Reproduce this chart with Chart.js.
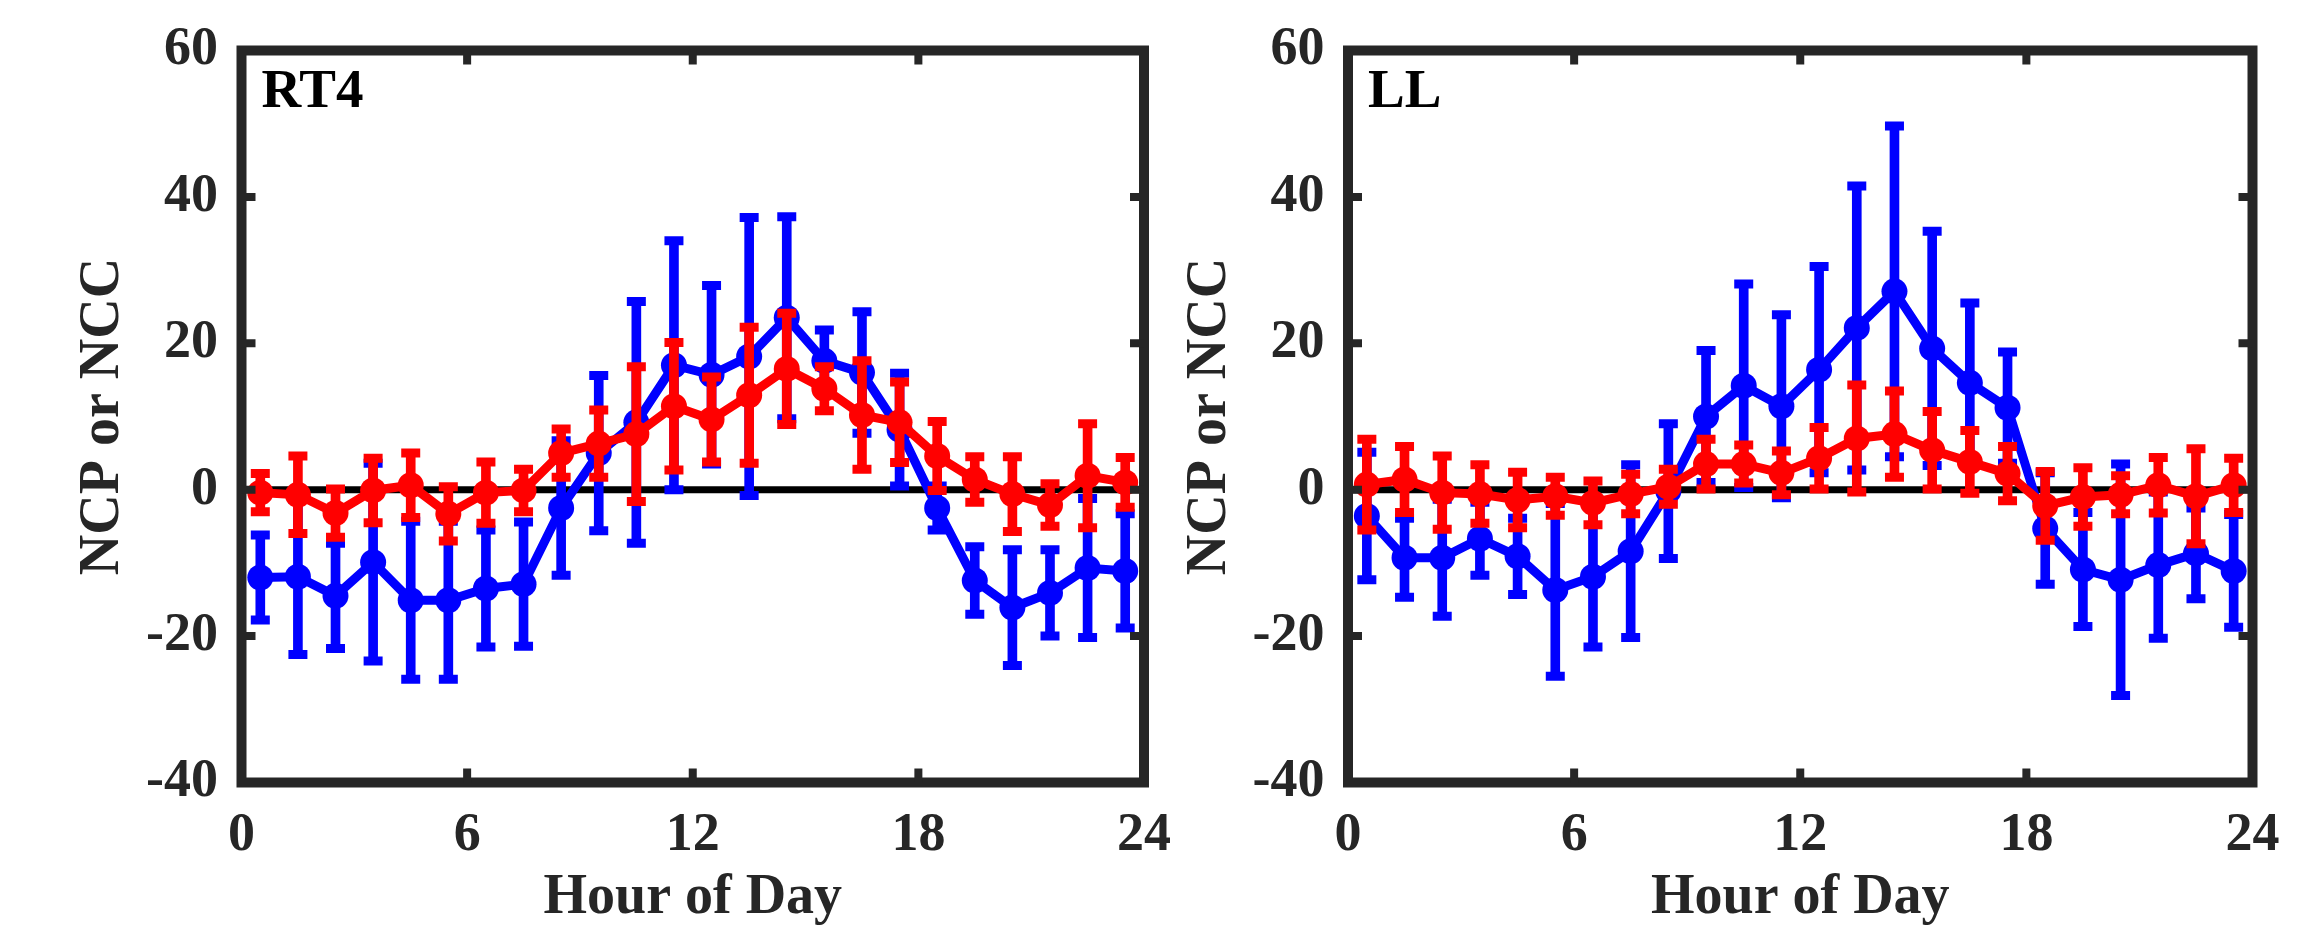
<!DOCTYPE html>
<html><head><meta charset="utf-8">
<script src="https://cdn.jsdelivr.net/npm/chart.js@4.4.1/dist/chart.umd.min.js"></script>
<style>
html,body{margin:0;padding:0;background:#fff;overflow:hidden}
#wrap{position:relative;width:2321px;height:933px;background:#fff}
canvas{position:absolute;left:0;top:0}
#pre{position:absolute;left:0;top:0;font:bold 54px "Liberation Serif";color:#fff;opacity:0.01}
</style></head><body>
<div id="wrap"><span id="pre">NCP or NCC Hour of Day 0123456789 RT4 LL</span><canvas id="c1" width="2321" height="933" style="width:2321px;height:933px"></canvas><canvas id="c2" width="2321" height="933" style="width:2321px;height:933px"></canvas></div>
<script>
// ---- data ----
const hours = [0.5,1.5,2.5,3.5,4.5,5.5,6.5,7.5,8.5,9.5,10.5,11.5,12.5,13.5,14.5,15.5,16.5,17.5,18.5,19.5,20.5,21.5,22.5,23.5];
const xTicks = [0, 6, 12, 18, 24];
const yTicks = [-40, -20, 0, 20, 40, 60];
const panelLabels = ['RT4', 'LL'];

// RT4 panel
const rt4Ncp    = [-12.0,-11.9,-14.5,-9.9,-15.1,-15.1,-13.5,-12.9,-2.5,5.0,9.2,17.0,15.7,18.2,23.5,17.6,16.0,8.2,-2.5,-12.4,-16.1,-14.1,-10.7,-11.1];
const rt4NcpErr = [5.8,10.6,7.2,13.5,10.8,10.8,8.0,8.5,9.2,10.6,16.5,17.0,12.2,19.0,13.8,4.2,8.3,7.7,3.0,4.6,7.9,5.9,9.5,7.8];
const rt4Ncc    = [-0.4,-0.7,-3.2,-0.1,0.6,-3.3,-0.4,-0.1,5.0,6.3,7.6,11.4,9.6,12.9,16.5,13.8,10.2,9.2,4.6,1.4,-0.6,-2.1,1.9,1.0];
const rt4NccErr = [2.6,5.3,3.3,4.4,4.4,3.7,4.2,2.9,3.3,4.6,9.2,8.7,5.8,9.3,7.6,3.0,7.4,5.5,4.7,3.1,5.1,2.9,7.1,3.4];

// LL panel
const llNcp    = [-3.6,-9.3,-9.3,-6.7,-9.1,-13.7,-11.9,-8.4,-0.2,10.0,14.2,11.4,16.4,22.1,27.1,19.3,14.6,11.2,-5.3,-10.9,-12.3,-10.3,-8.7,-11.1];
const llNcpErr = [8.7,5.4,8.0,5.0,5.2,11.8,9.6,11.8,9.2,9.0,13.9,12.5,14.1,19.4,22.6,16.0,10.9,7.6,7.6,7.8,15.8,10.0,6.2,7.7];
const llNcc    = [0.7,1.4,-0.4,-0.6,-1.4,-0.9,-1.8,-0.6,0.4,3.5,3.5,2.3,4.3,7.0,7.6,5.4,3.8,2.2,-2.2,-1.0,-0.7,0.6,-0.9,0.6];
const llNccErr = [6.2,4.5,5.0,4.0,3.8,2.6,3.0,2.7,2.4,3.4,2.6,3.0,4.2,7.3,5.9,5.3,4.3,3.7,4.7,4.0,2.6,3.8,6.5,3.7];

// ---- styling ----
const FONT = '"Liberation Serif", "Times New Roman", Times, serif';
const TXT = '#262626';
const BLUE = '#0000ff';
const RED = '#ff0000';
const f54 = {family: FONT, size: 54, weight: 'bold', lineHeight: 1};
const f56 = {family: FONT, size: 56, weight: 'bold', lineHeight: 1};

function stems(v, e) { return hours.map((h, i) => ({x: h, y: [v[i] - e[i], v[i] + e[i]]})); }
function caps(v, e) { const o = []; hours.forEach((h, i) => { o.push({x: h, y: v[i] - e[i]}); o.push({x: h, y: v[i] + e[i]}); }); return o; }
function pts(v) { return hours.map((h, i) => ({x: h, y: v[i]})); }

function seriesSets(v, e, color, baseOrder) {
  return [
    {type: 'bar', data: stems(v, e), backgroundColor: color, borderWidth: 0, barThickness: 9, maxBarThickness: 9, grouped: false, order: baseOrder + 2},
    {type: 'scatter', data: caps(v, e), showLine: false, pointStyle: 'line', pointRadius: 9.5, pointHoverRadius: 9.5,
     pointBorderColor: color, borderColor: color, pointBorderWidth: 9, borderWidth: 9, order: baseOrder + 1},
    {type: 'line', data: pts(v), borderColor: color, borderWidth: 9, tension: 0, fill: false,
     pointRadius: 13, pointHoverRadius: 13, pointBackgroundColor: color, pointBorderColor: color, pointBorderWidth: 0, order: baseOrder}
  ];
}

const framePlugin = {
  id: 'frame',
  afterDatasetsDraw(chart, args, opts) {
    const {ctx, chartArea: a, scales} = chart;
    ctx.save();
    ctx.strokeStyle = TXT;
    ctx.lineWidth = 10;
    ctx.lineJoin = 'miter';
    ctx.strokeRect(a.left, a.top, a.right - a.left, a.bottom - a.top);
    ctx.lineWidth = 8;
    ctx.beginPath();
    const L = 14;
    xTicks.forEach(t => {
      const px = scales.x.getPixelForValue(t);
      if (px <= a.left + 1 || px >= a.right - 1) return;
      ctx.moveTo(px, a.bottom); ctx.lineTo(px, a.bottom - L);
      ctx.moveTo(px, a.top); ctx.lineTo(px, a.top + L);
    });
    yTicks.forEach(t => {
      const py = scales.y.getPixelForValue(t);
      if (py <= a.top + 1 || py >= a.bottom - 1) return;
      ctx.moveTo(a.left, py); ctx.lineTo(a.left + L, py);
      ctx.moveTo(a.right, py); ctx.lineTo(a.right - L, py);
    });
    ctx.stroke();
    ctx.fillStyle = '#000';
    ctx.font = 'bold 55px ' + FONT;
    ctx.textAlign = 'left';
    ctx.textBaseline = 'alphabetic';
    ctx.fillText(opts.label, a.left + 20, a.top + 56);
    ctx.restore();
  }
};

function makeChart(id, label, ncp, ncpErr, ncc, nccErr, padding) {
  const zero = [{x: xTicks[0], y: 0}, {x: xTicks[xTicks.length - 1], y: 0}];
  return new Chart(document.getElementById(id), {
    type: 'scatter',
    data: {
      datasets: [
        {type: 'line', data: zero, borderColor: '#000', borderWidth: 7, pointRadius: 0, pointHoverRadius: 0, order: 20},
        ...seriesSets(ncp, ncpErr, BLUE, 10),
        ...seriesSets(ncc, nccErr, RED, 0)
      ]
    },
    options: {
      responsive: false,
      animation: false,
      events: [],
      devicePixelRatio: 1,
      layout: {padding},
      plugins: {legend: {display: false}, tooltip: {enabled: false}, frame: {label}},
      scales: {
        x: {
          type: 'linear', position: 'bottom', min: xTicks[0], max: xTicks[xTicks.length - 1], offset: false,
          grid: {display: false, drawTicks: false}, border: {display: false},
          afterBuildTicks: s => { s.ticks = xTicks.map(v => ({value: v})); },
          afterFit: s => { s.height = 150.5; },
          ticks: {autoSkip: false, maxRotation: 0, padding: 26.5, color: TXT, font: f54},
          title: {display: true, text: 'Hour of Day', color: TXT, font: f56, padding: {top: 0, bottom: 6}}
        },
        y: {
          type: 'linear', position: 'left', min: yTicks[0], max: yTicks[yTicks.length - 1],
          grid: {display: false, drawTicks: false}, border: {display: false},
          afterBuildTicks: s => { s.ticks = yTicks.map(v => ({value: v})); },
          afterFit: s => { s.width = 241.5; },
          ticks: {autoSkip: false, padding: 23.5, color: TXT, font: f54},
          title: {display: true, text: 'NCP or NCC', color: TXT, font: f56, padding: {top: 75.8, bottom: 0}}
        }
      }
    },
    plugins: [framePlugin]
  });
}

makeChart('c1', panelLabels[0], rt4Ncp, rt4NcpErr, rt4Ncc, rt4NccErr, {left: 0, top: 40.5, right: 1177, bottom: 0});
makeChart('c2', panelLabels[1], llNcp, llNcpErr, llNcc, llNccErr, {left: 1106.5, top: 40.5, right: 68.5, bottom: 0});
</script>
</body></html>
